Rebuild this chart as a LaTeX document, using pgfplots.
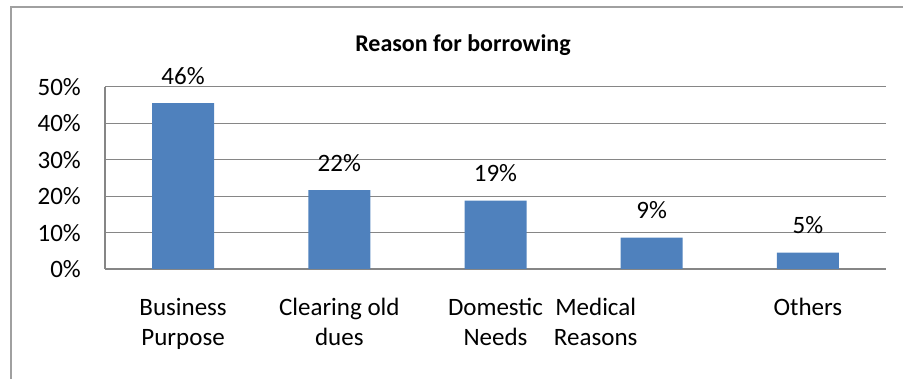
\documentclass[border=0pt]{standalone}
\usepackage{pgfplots}
\pgfplotsset{compat=1.18}
\usepackage{fontspec}
\setmainfont{Carlito}
\definecolor{barblue}{HTML}{4F81BD}
\definecolor{axgray}{HTML}{868686}
\definecolor{framegray}{HTML}{A0A0A0}
\begin{document}
\begin{tikzpicture}[x=1pt,y=1pt]
\path[use as bounding box] (0,0) rectangle (903,379);
\draw[framegray, line width=2pt] (11,0) -- (11,372) -- (903,372);
\node[anchor=base, font=\bfseries\fontsize{24}{28}\selectfont] at (463,327) {Reason for borrowing};
\begin{axis}[
  at={(105pt,110pt)}, anchor=south west,
  scale only axis, width=781pt, height=182pt,
  xmin=-0.5, xmax=4.5, ymin=0, ymax=50,
  ytick={0,10,20,30,40,50},
  yticklabel={\pgfmathprintnumber{\tick}\%},
  /pgf/number format/assume math mode=true,
  xtick={0,1,2,3,4},
  xticklabels={{Business\\Purpose},{Clearing old\\dues},{Domestic\\Needs},{},{Others}},
  major tick length=0pt,
  axis x line*=bottom, axis y line*=left,
  axis line style={axgray, line width=1.5pt, -},
  ymajorgrids, grid style={axgray, line width=1pt},
  ticklabel style={font=\fontsize{25}{30}\selectfont},
  yticklabel style={anchor=east, inner sep=0pt, xshift=-24pt},
  xticklabel style={anchor=north, inner sep=0pt, yshift=-29pt, align=center},
  ybar, bar width=62pt,
  point meta=explicit symbolic,
  nodes near coords,
  every node near coord/.append style={anchor=base, inner sep=0pt, yshift=19pt, font=\fontsize{25}{30}\selectfont},
  clip=false,
]
\addplot[fill=barblue, draw=none] coordinates {
  (0,45.6) [46\%]
  (1,21.7) [22\%]
  (2,18.8) [19\%]
  (3,8.6) [9\%]
  (4,4.5) [5\%]
};
\node[anchor=north, inner sep=0pt, yshift=-29pt, xshift=-56pt, align=center, font=\fontsize{25}{30}\selectfont] at (axis cs:3,0) {Medical\\Reasons};
\end{axis}
\end{tikzpicture}
\end{document}
